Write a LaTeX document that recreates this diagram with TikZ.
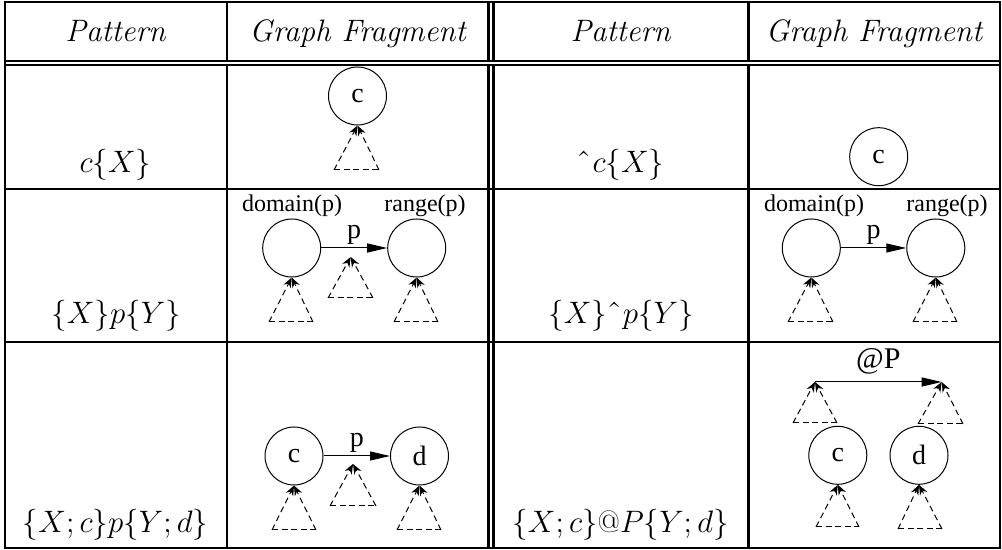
\RequirePackage{fix-cm}
\documentclass[tikz,border=0pt]{standalone}
\usepackage{fontspec}
\newfontfamily\gfont{Liberation Serif}
\usetikzlibrary{arrows.meta}
\tikzset{
  grid/.style={line width=1.3pt},
  gnode/.style={circle, draw, line width=0.5pt, minimum size=29pt, inner sep=0pt, font=\gfont\fontsize{14}{16}\selectfont},
  glabel/.style={anchor=base, inner sep=0pt, font=\gfont\fontsize{12}{14}\selectfont},
  elabel/.style={above, inner sep=1.5pt, font=\gfont\fontsize{14}{16}\selectfont},
  gedge/.style={-{Triangle[length=10pt,width=4.5pt]}, line width=0.5pt},
  subedge/.style={-{Stealth[length=5pt,width=4pt]}, dash pattern=on 3pt off 2pt, line width=0.5pt},
  subbase/.style={dash pattern=on 3pt off 1.8pt, line width=0.5pt},
  headtext/.style={anchor=base, inner sep=0pt, font=\fontsize{15.5}{18}\selectfont\itshape},
  patt/.style={anchor=base, inner sep=0pt, font=\fontsize{15.5}{18}\selectfont},
}
\newcommand{\hatmark}{\mbox{ˆ}\mkern1mu}
% dashed sub-graph triangle: name, apex, left x, right x, base y
\newcommand{\subtree}[5]{%
  \coordinate (#1-l) at (#3,#5);
  \coordinate (#1-r) at (#4,#5);
  \draw[subedge] (#1-l) -- (#2);
  \draw[subedge] (#1-r) -- (#2);
  \draw[subbase] (#1-l) -- (#1-r);
}

\begin{document}
\begin{tikzpicture}[x=0.5pt,y=-0.5pt]
  \useasboundingbox (0,0) rectangle (1002,550);

  % table rules
  \draw[grid] (5,2) rectangle (1000,548);
  \draw[grid] (5,61) -- (1000,61);
  \draw[grid] (5,65) -- (1000,65);
  \draw[grid] (5,189) -- (1000,189);
  \draw[grid] (5,342) -- (1000,342);
  \foreach \x in {227,488.3,493.3,748.3} {
    \draw[grid] (\x,2) -- (\x,61);
    \draw[grid] (\x,65) -- (\x,548);
  }

  % headings
  \node[headtext] (h1) at (115.5,42) {Pattern};
  \node[headtext] (h2) at (357.5,42) {Graph Fragment};
  \node[headtext] (h3) at (620.5,42) {Pattern};
  \node[headtext] (h4) at (874,42) {Graph Fragment};

  % patterns
  \node[patt] (p1) at (115.5,173) {$c\{X\}$};
  \node[patt] (p2) at (620.5,173) {$\hatmark c\{X\}$};
  \node[patt] (p3) at (116,324) {$\{X\}p\{Y\}$};
  \node[patt] (p4) at (621,324) {$\{X\}\hatmark p\{Y\}$};
  \node[patt] (p5) at (115.5,533) {$\{X;c\}p\{Y;d\}$};
  \node[patt] (p6) at (620.5,533) {$\{X;c\}@P\{Y;d\}$};

  % row 1
  \node[gnode] (c1) at (357.5,96) {c};
  \subtree{t1}{c1.south}{334}{379}{170}
  \node[gnode] (c2) at (878.7,156.7) {c};

  % row 2
  \node[gnode] (dom1) at (291.7,248) {};
  \node[gnode] (rng1) at (416.7,248) {};
  \node[glabel] (dl1) at (292,212) {domain(p)};
  \node[glabel] (rl1) at (425,212) {range(p)};
  \draw[gedge] (dom1) -- node[elabel] (e1) {p} (rng1);
  \coordinate (m1) at (350.7,257);
  \subtree{t2}{dom1.south}{269}{313}{322}
  \subtree{t3}{m1}{328}{373}{298}
  \subtree{t4}{rng1.south}{394}{438}{322}

  \node[gnode] (dom2) at (811.3,248) {};
  \node[gnode] (rng2) at (935.8,248) {};
  \node[glabel] (dl2) at (814,212) {domain(p)};
  \node[glabel] (rl2) at (947,212) {range(p)};
  \draw[gedge] (dom2) -- node[elabel] (e2) {p} (rng2);
  \subtree{t5}{dom2.south}{788}{833}{322}
  \subtree{t6}{rng2.south}{913}{957}{322}

  % row 3
  \node[gnode] (c3) at (294,456) {c};
  \node[gnode] (d3) at (419.5,456) {d};
  \draw[gedge] (c3) -- node[elabel] (e3) {p} (d3);
  \coordinate (m2) at (353,464);
  \subtree{t7}{c3.south}{272}{316}{530}
  \subtree{t8}{m2}{330}{376}{506}
  \subtree{t9}{d3.south}{397}{441}{530}

  \node[gnode] (c4) at (837.8,455.3) {c};
  \node[gnode] (d4) at (919,455.3) {d};
  \coordinate (a1) at (815,382);
  \coordinate (a2) at (941.7,382);
  \draw[gedge] (a1) -- node[elabel, inner sep=3.8pt, font=\gfont\fontsize{15}{18}\selectfont] (e4) {@P} (a2);
  \subtree{t10}{a1}{793}{837}{423}
  \subtree{t11}{a2}{918}{963}{424}
  \subtree{t12}{c4.south}{816}{859}{527}
  \subtree{t13}{d4.south}{898}{942}{529}
\end{tikzpicture}
\end{document}
